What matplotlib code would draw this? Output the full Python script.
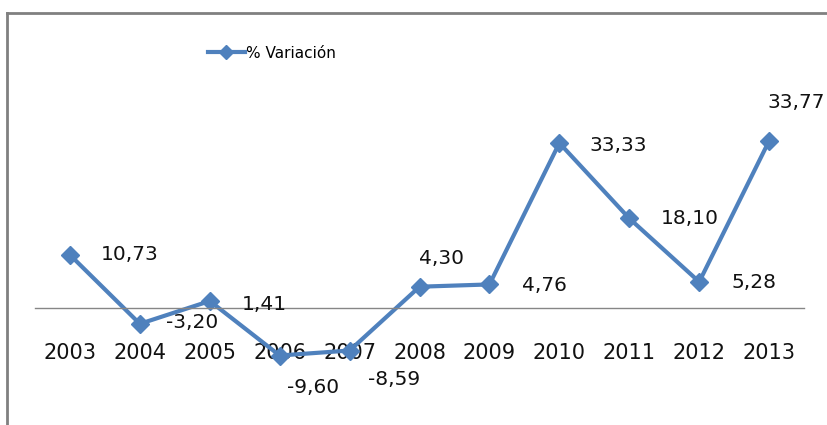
import matplotlib
matplotlib.use("Agg")
import matplotlib.pyplot as plt
from matplotlib.lines import Line2D

years = ["2003", "2004", "2005", "2006", "2007", "2008", "2009", "2010", "2011", "2012", "2013"]
variacion = [10.73, -3.20, 1.41, -9.60, -8.59, 4.30, 4.76, 33.33, 18.10, 5.28, 33.77]
series_name = "% Variación"

# label offsets in pixels (dx, dy), as placed in the original
label_off = [(60, 0), (52, 1), (55, -3), (33, -32), (44, -29), (22, 28),
             (55, -1), (59, -2), (61, 0), (55, -1), (27, 38)]

blue = "#4F81BD"

fig = plt.figure(figsize=(8.27, 4.25), dpi=100)
ax = fig.add_axes([0.0423, 0.1006, 0.930, 0.6988])

x = list(range(len(years)))
ax.plot(x, variacion, color=blue, lw=3, marker="D", markersize=9, label=series_name)

for i, v in enumerate(variacion):
    dx, dy = label_off[i]
    ax.annotate(f"{v:.2f}".replace(".", ","), (i, v), xytext=(dx, dy),
                textcoords="offset pixels", ha="center", va="center",
                fontsize=14.5, color="#111111")

ax.set_xlim(-0.5, 10.5)
ax.set_ylim(-15, 45)
for s in ["top", "right", "left"]:
    ax.spines[s].set_visible(False)
ax.spines["bottom"].set_position(("data", 0))
ax.spines["bottom"].set_color("#868686")
ax.spines["bottom"].set_linewidth(1)
ax.set_xticks(x)
ax.set_xticklabels(years)
ax.tick_params(axis="x", length=0, pad=25, labelsize=15, labelcolor="#111111")
ax.set_yticks([])

fig.legend(loc="center", bbox_to_anchor=(272 / 827, 1 - 53 / 425), frameon=False,
           fontsize=11, handlelength=2.4, handletextpad=0.1, borderpad=0,
           markerscale=0.8)

# outer frame (left and top edges only visible)
fig.add_artist(Line2D([7 / 827, 7 / 827], [0, 1 - 13 / 425], transform=fig.transFigure,
                      color="#808080", lw=2))
fig.add_artist(Line2D([7 / 827, 1], [1 - 13 / 425, 1 - 13 / 425], transform=fig.transFigure,
                      color="#808080", lw=2))

fig.savefig("out.png", dpi=100)
